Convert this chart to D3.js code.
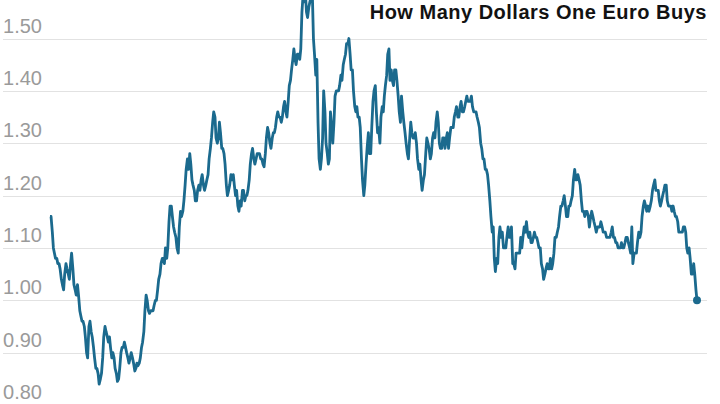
<!DOCTYPE html>
<html>
<head>
<meta charset="utf-8">
<script src="https://cdn.jsdelivr.net/npm/d3@7"></script>
<style>
    body { margin: 0; background: #fff; }
    svg { display: block; }
</style>
</head>
<body>
<svg id="chart" width="720" height="404"></svg>
<script>
var title = "How Many Dollars One Euro Buys";
var yTicks = [0.80, 0.90, 1.00, 1.10, 1.20, 1.30, 1.40, 1.50];
var startYear = 1999;

// two readings a month (1st and 15th), dollars per euro
var rates = [
    // 1999
    1.16, 1.16, 1.13, 1.10, 1.09, 1.08, 1.08, 1.07, 1.07, 1.06, 1.04, 1.03,
    1.02, 1.05, 1.07, 1.06, 1.05, 1.04, 1.07, 1.09, 1.06, 1.03, 1.02, 1.01,
    // 2000
    1.03, 1.01, 0.98, 0.97, 0.96, 0.96, 0.95, 0.93, 0.90, 0.89, 0.95, 0.96,
    0.94, 0.93, 0.91, 0.89, 0.87, 0.87, 0.86, 0.84, 0.85, 0.86, 0.89, 0.93,
    // 2001
    0.95, 0.94, 0.93, 0.92, 0.93, 0.91, 0.89, 0.90, 0.89, 0.87, 0.86, 0.845,
    0.85, 0.87, 0.90, 0.91, 0.91, 0.92, 0.91, 0.90, 0.89, 0.88, 0.89, 0.90,
    // 2002
    0.89, 0.88, 0.865, 0.87, 0.88, 0.875, 0.88, 0.89, 0.91, 0.92, 0.94, 0.98,
    1.01, 1.00, 0.98, 0.975, 0.98, 0.98, 0.98, 0.99, 1.00, 1.00, 1.02, 1.04,
    // 2003
    1.05, 1.07, 1.08, 1.08, 1.07, 1.10, 1.08, 1.10, 1.15, 1.18, 1.18, 1.16,
    1.14, 1.13, 1.12, 1.10, 1.09, 1.14, 1.17, 1.16, 1.17, 1.19, 1.22, 1.25,
    // 2004
    1.27, 1.25, 1.28, 1.26, 1.23, 1.22, 1.21, 1.19, 1.19, 1.21, 1.22, 1.21,
    1.23, 1.24, 1.22, 1.21, 1.22, 1.23, 1.24, 1.27, 1.29, 1.31, 1.34, 1.36,
    // 2005
    1.35, 1.31, 1.30, 1.31, 1.34, 1.32, 1.29, 1.29, 1.28, 1.26, 1.22, 1.20,
    1.21, 1.22, 1.24, 1.23, 1.24, 1.22, 1.20, 1.21, 1.18, 1.17, 1.19, 1.18,
    // 2006
    1.21, 1.21, 1.19, 1.20, 1.20, 1.21, 1.23, 1.26, 1.28, 1.29, 1.27, 1.26,
    1.27, 1.28, 1.28, 1.28, 1.27, 1.27, 1.26, 1.255, 1.28, 1.31, 1.33, 1.32,
    // 2007
    1.30, 1.29, 1.31, 1.32, 1.32, 1.33, 1.35, 1.36, 1.35, 1.35, 1.34, 1.35,
    1.37, 1.38, 1.36, 1.35, 1.38, 1.41, 1.42, 1.44, 1.46, 1.48, 1.46, 1.45,
    // 2008
    1.47, 1.47, 1.46, 1.48, 1.55, 1.58, 1.57, 1.59, 1.55, 1.54, 1.56, 1.57,
    1.58, 1.60, 1.50, 1.47, 1.43, 1.46, 1.34, 1.27, 1.25, 1.27, 1.31, 1.40,
    // 2009
    1.36, 1.30, 1.28, 1.26, 1.27, 1.36, 1.33, 1.30, 1.34, 1.39, 1.40, 1.40,
    1.40, 1.41, 1.43, 1.42, 1.45, 1.46, 1.47, 1.49, 1.49, 1.50, 1.47, 1.44,
    // 2010
    1.44, 1.40, 1.37, 1.36, 1.37, 1.35, 1.35, 1.33, 1.27, 1.23, 1.20, 1.22,
    1.26, 1.29, 1.32, 1.28, 1.28, 1.33, 1.38, 1.40, 1.41, 1.36, 1.32, 1.33,
    // 2011
    1.30, 1.35, 1.37, 1.36, 1.39, 1.41, 1.43, 1.47, 1.48, 1.42, 1.44, 1.42,
    1.41, 1.44, 1.44, 1.42, 1.39, 1.36, 1.34, 1.39, 1.36, 1.34, 1.32, 1.30,
    // 2012
    1.28, 1.27, 1.31, 1.34, 1.32, 1.31, 1.31, 1.32, 1.30, 1.27, 1.25, 1.26,
    1.23, 1.21, 1.23, 1.24, 1.28, 1.31, 1.30, 1.29, 1.27, 1.28, 1.31, 1.32,
    // 2013
    1.31, 1.34, 1.36, 1.34, 1.30, 1.29, 1.29, 1.31, 1.31, 1.29, 1.31, 1.32,
    1.29, 1.31, 1.33, 1.33, 1.33, 1.35, 1.36, 1.37, 1.35, 1.35, 1.37, 1.38,
    // 2014
    1.36, 1.36, 1.37, 1.38, 1.39, 1.38, 1.38, 1.38, 1.39, 1.37, 1.36, 1.36,
    1.36, 1.35, 1.34, 1.33, 1.30, 1.29, 1.27, 1.27, 1.25, 1.25, 1.24, 1.22,
    // 2015
    1.19, 1.16, 1.13, 1.14, 1.08, 1.055, 1.08, 1.07, 1.12, 1.14, 1.12, 1.13,
    1.10, 1.10, 1.10, 1.12, 1.14, 1.12, 1.12, 1.14, 1.07, 1.07, 1.06, 1.09,
    // 2016
    1.09, 1.09, 1.09, 1.12, 1.10, 1.12, 1.14, 1.13, 1.15, 1.13, 1.12, 1.13,
    1.11, 1.11, 1.12, 1.13, 1.12, 1.12, 1.11, 1.10, 1.10, 1.07, 1.06, 1.04,
    // 2017
    1.05, 1.06, 1.07, 1.06, 1.06, 1.08, 1.06, 1.07, 1.09, 1.12, 1.12, 1.13,
    1.14, 1.16, 1.18, 1.18, 1.19, 1.20, 1.18, 1.16, 1.16, 1.18, 1.18, 1.19,
    // 2018
    1.20, 1.23, 1.25, 1.23, 1.23, 1.24, 1.23, 1.22, 1.19, 1.17, 1.17, 1.16,
    1.17, 1.17, 1.16, 1.14, 1.16, 1.17, 1.16, 1.15, 1.14, 1.13, 1.14, 1.14,
    // 2019
    1.14, 1.15, 1.14, 1.13, 1.13, 1.13, 1.12, 1.12, 1.12, 1.12, 1.13, 1.14,
    1.12, 1.12, 1.11, 1.11, 1.10, 1.10, 1.10, 1.11, 1.10, 1.10, 1.11, 1.12,
    // 2020
    1.12, 1.11, 1.10, 1.09, 1.14, 1.07, 1.09, 1.09, 1.09, 1.11, 1.13, 1.12,
    1.13, 1.16, 1.18, 1.19, 1.18, 1.17, 1.18, 1.17, 1.18, 1.19, 1.21, 1.22,
    // 2021
    1.23, 1.21, 1.21, 1.21, 1.19, 1.18, 1.19, 1.20, 1.21, 1.22, 1.22, 1.19,
    1.18, 1.18, 1.18, 1.17, 1.18, 1.17, 1.16, 1.16, 1.15, 1.13, 1.13, 1.13,
    // 2022
    1.13, 1.14, 1.14, 1.13, 1.10, 1.09, 1.10, 1.08, 1.05, 1.05, 1.07, 1.05,
    1.02, 1.00
];

var data = rates.map(function(v, i) {
    var year = startYear + Math.floor(i / 24),
        month = Math.floor((i % 24) / 2),
        day = i % 2 ? 15 : 1;
    return { date: new Date(year, month, day), value: v };
});

var svg = d3.select("#chart"),
    lineColor = "#1b6a8e";

var x = d3.scaleTime()
    .domain(d3.extent(data, function(d) { return d.date; }))
    .range([50, 697]);

var y = d3.scaleLinear()
    .domain([0.80, 1.50])
    .range([405, 38.5]);

// gridlines + labels
var grid = svg.append("g").attr("class", "grid");

grid.selectAll("line")
    .data(yTicks)
    .enter().append("line")
    .attr("x1", 3)
    .attr("x2", 707)
    .attr("y1", function(d) { return Math.round(y(d)) + 0.5; })
    .attr("y2", function(d) { return Math.round(y(d)) + 0.5; })
    .style("stroke", "#e2e2e2")
    .style("stroke-width", 1);

grid.selectAll("text")
    .data(yTicks)
    .enter().append("text")
    .attr("x", 42)
    .attr("y", function(d) { return y(d) - 6; })
    .attr("text-anchor", "end")
    .style("font-family", "'Liberation Sans', Arial, sans-serif")
    .style("font-size", "20px")
    .style("fill", "#9a9a9a")
    .text(function(d) { return d3.format(".2f")(d); });

var line = d3.line()
    .x(function(d) { return x(d.date); })
    .y(function(d) { return y(d.value); });

svg.append("path")
    .datum(data)
    .attr("d", line)
    .style("fill", "none")
    .style("stroke", lineColor)
    .style("stroke-width", 2.8)
    .style("stroke-linejoin", "round");

var last = data[data.length - 1];
svg.append("circle")
    .attr("cx", x(last.date))
    .attr("cy", y(last.value))
    .attr("r", 4)
    .style("fill", lineColor);

svg.append("text")
    .attr("x", 707)
    .attr("y", 19)
    .attr("text-anchor", "end")
    .style("font-family", "'Liberation Sans', Arial, sans-serif")
    .style("font-weight", "bold")
    .style("font-size", "20px")
    .style("letter-spacing", "0.5px")
    .style("fill", "#121212")
    .text(title);
</script>
</body>
</html>
